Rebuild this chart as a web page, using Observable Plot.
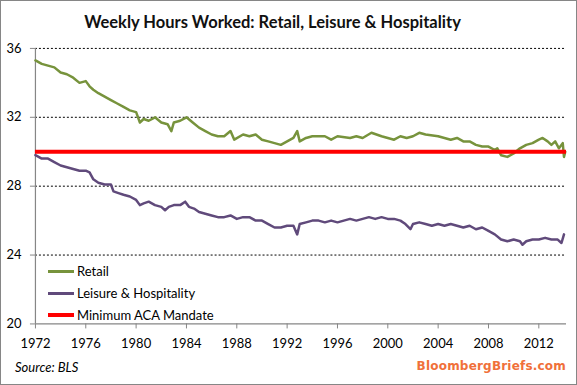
<!DOCTYPE html>
<html>
<head>
<meta charset="utf-8">
<script src="https://cdn.jsdelivr.net/npm/d3@7"></script>
<script src="https://cdn.jsdelivr.net/npm/@observablehq/plot@0.6"></script>
<style>
  html, body { margin: 0; padding: 0; background: #fff; }
  #wrap { position: relative; width: 575px; height: 383px; border: 1px solid #868686; overflow: hidden; font-family: Lato, "Open Sans", sans-serif; }
  #chart { position: absolute; left: -1px; top: -1px; }
  #title { position: absolute; left: 8px; width: 527px; top: 11px; text-align: center; font-weight: bold; font-size: 16.5px; color: #111; }
  #source { position: absolute; left: 14px; top: 358px; font-style: italic; font-size: 13px; color: #000; }
  #brand { position: absolute; right: 10px; top: 358px; font-family: "DejaVu Sans", sans-serif; font-weight: bold; font-size: 12px; color: #f0703a; letter-spacing: 0.2px; }
  #legend { position: absolute; left: 47px; top: 259px; font-size: 13px; color: #000; }
  .li { display: flex; align-items: center; height: 22px; }
  .sw { width: 26px; margin-right: 3px; }
</style>
</head>
<body>
<div id="wrap">
  <div id="chart"></div>
  <div id="title">Weekly Hours Worked: Retail, Leisure &amp; Hospitality</div>
  <div id="legend"></div>
  <div id="source">Source: BLS</div>
  <div id="brand">BloombergBriefs.com</div>
</div>
<script>
// Series names and colors
const seriesNames = ["Retail", "Leisure & Hospitality", "Minimum ACA Mandate"];
const seriesColors = ["#77933c", "#604a7b", "#ff0000"];

// Retail average weekly hours
const retailYears = [1972.0,1972.5,1973.0,1973.5,1974.0,1974.5,1975.0,1975.5,1976.0,1976.3,1976.6,1977.0,1977.5,1978.0,1978.5,1979.0,1979.5,1980.0,1980.3,1980.6,1981.0,1981.5,1982.0,1982.5,1982.8,1983.0,1983.5,1984.0,1984.5,1985.0,1985.5,1986.0,1986.5,1987.0,1987.5,1987.8,1988.5,1989.0,1989.5,1990.0,1990.5,1991.0,1991.5,1992.0,1992.5,1992.8,1993.0,1993.5,1994.0,1995.0,1995.5,1996.0,1997.0,1997.5,1998.0,1998.7,1999.5,2000.5,2001.0,2001.5,2002.0,2002.5,2003.0,2004.0,2004.5,2005.0,2005.5,2006.0,2006.5,2007.0,2007.5,2008.0,2008.5,2008.7,2009.0,2009.5,2010.0,2010.5,2011.0,2011.5,2012.0,2012.3,2012.7,2013.0,2013.3,2013.6,2013.9,2014.0,2014.1];
const retailHours = [35.3,35.1,35.0,34.9,34.6,34.5,34.3,34.0,34.1,33.8,33.6,33.4,33.2,33.0,32.8,32.6,32.4,32.3,31.7,31.9,31.8,32.0,31.7,31.6,31.2,31.7,31.8,32.0,31.7,31.4,31.2,31.0,30.9,30.9,31.2,30.7,31.0,30.9,31.0,30.7,30.6,30.5,30.4,30.6,30.8,31.2,30.6,30.8,30.9,30.9,30.7,30.9,30.8,30.9,30.8,31.1,30.9,30.7,30.9,30.8,30.9,31.1,31.0,30.9,30.8,30.7,30.8,30.6,30.6,30.4,30.3,30.3,30.1,30.2,29.8,29.7,29.9,30.2,30.4,30.5,30.7,30.8,30.6,30.4,30.6,30.2,30.5,29.7,30.0];

// Leisure & Hospitality average weekly hours
const leisureYears = [1972.0,1972.5,1973.0,1973.5,1974.0,1974.5,1975.0,1975.5,1976.0,1976.3,1976.6,1977.0,1977.5,1978.0,1978.2,1978.6,1979.0,1979.5,1980.0,1980.3,1980.6,1981.0,1981.5,1982.0,1982.3,1982.6,1983.0,1983.5,1983.9,1984.2,1984.6,1985.0,1985.5,1986.0,1986.5,1987.0,1987.5,1988.0,1988.5,1989.0,1989.5,1990.0,1990.5,1991.0,1991.5,1992.0,1992.5,1992.8,1993.0,1993.5,1994.0,1994.5,1995.0,1995.5,1996.0,1996.5,1997.0,1997.5,1998.0,1998.5,1999.0,1999.5,2000.0,2000.5,2001.0,2001.4,2001.8,2002.0,2002.5,2003.0,2003.5,2004.0,2004.5,2005.0,2005.5,2006.0,2006.5,2007.0,2007.5,2008.0,2008.5,2009.0,2009.5,2010.0,2010.5,2010.7,2011.0,2011.5,2012.0,2012.5,2013.0,2013.5,2013.8,2014.0];
const leisureHours = [29.8,29.6,29.6,29.4,29.2,29.1,29.0,28.9,28.9,28.8,28.4,28.2,28.1,28.1,27.7,27.6,27.5,27.4,27.2,26.9,27.0,27.1,26.9,26.8,26.6,26.8,26.9,26.9,27.1,26.8,26.7,26.5,26.4,26.3,26.2,26.2,26.3,26.1,26.2,26.2,26.0,26.0,25.8,25.6,25.6,25.7,25.7,25.2,25.8,25.9,26.0,26.0,25.9,26.0,25.9,26.0,26.1,26.0,26.1,26.2,26.1,26.2,26.1,26.1,26.0,25.8,25.5,25.8,25.9,25.8,25.7,25.8,25.7,25.8,25.7,25.6,25.7,25.5,25.6,25.4,25.2,24.9,24.8,24.9,24.8,24.6,24.8,24.9,24.9,25.0,24.9,24.9,24.7,25.2];

// ACA mandate threshold
const mandateHours = [30];

// Axis ticks
const xTicks = [1972,1976,1980,1984,1988,1992,1996,2000,2004,2008,2012];
const yTicks = [20,24,28,32,36];
const gridTicks = [24,28,32,36];

const retail = retailYears.map((y, i) => ({year: y, hours: retailHours[i]}));
const leisure = leisureYears.map((y, i) => ({year: y, hours: leisureHours[i]}));

const axisGray = "#868686";

const chart = Plot.plot({
  width: 577,
  height: 385,
  marginLeft: 35,
  marginRight: 10,
  marginTop: 48,
  marginBottom: 61,
  style: {fontFamily: "Lato, 'Open Sans', sans-serif", fontSize: "13px", color: "#000", background: "transparent"},
  x: {domain: [1972, 2014.2], label: null},
  y: {domain: [20, 36], label: null},
  marks: [
    Plot.ruleY(gridTicks, {stroke: "#000", strokeDasharray: "2,2", strokeWidth: 1}),
    Plot.ruleY([20], {stroke: axisGray, strokeWidth: 1.2}),
    Plot.ruleX([1972], {stroke: axisGray, strokeWidth: 1.2}),
    Plot.axisX({ticks: xTicks, tickFormat: d => String(d), tickSize: 5, tickPadding: 10, stroke: axisGray, label: null, fontSize: 13}),
    Plot.axisY({ticks: yTicks, tickSize: 5, tickPadding: 9, stroke: axisGray, label: null, fontSize: 13}),
    Plot.line(leisure, {x: "year", y: "hours", stroke: seriesColors[1], strokeWidth: 2.5, strokeLinejoin: "round"}),
    Plot.line(retail, {x: "year", y: "hours", stroke: seriesColors[0], strokeWidth: 2.5, strokeLinejoin: "round"}),
    Plot.ruleY(mandateHours, {stroke: seriesColors[2], strokeWidth: 4})
  ]
});
document.getElementById("chart").appendChild(chart);

const legend = document.getElementById("legend");
seriesNames.forEach((name, i) => {
  const row = document.createElement("div");
  row.className = "li";
  const sw = document.createElement("div");
  sw.className = "sw";
  sw.style.height = i === 2 ? "4px" : "3px";
  sw.style.background = seriesColors[i];
  const label = document.createElement("span");
  label.textContent = name;
  row.appendChild(sw);
  row.appendChild(label);
  legend.appendChild(row);
});
</script>
</body>
</html>
